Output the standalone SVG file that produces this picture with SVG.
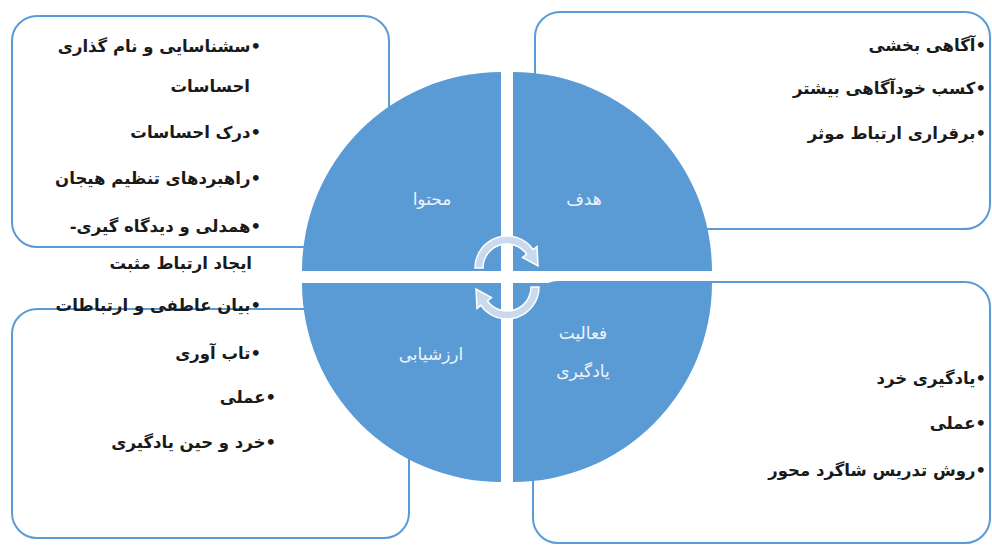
<svg xmlns="http://www.w3.org/2000/svg" width="992" height="545" viewBox="0 0 992 545">
<style>
.box{fill:#ffffff;stroke:#5b9bd5;stroke-width:2}
.q{fill:#5b9bd5}
.t{font-family:"DejaVu Sans","Noto Sans",sans-serif;font-size:16.5px;font-weight:bold;fill:#1a1a1a;direction:rtl;text-anchor:start}
.ql{font-family:"DejaVu Sans","Noto Sans",sans-serif;font-size:17px;fill:#eef3fa;text-anchor:middle}
.arr{fill:#c9daef;stroke:#ffffff;stroke-width:1.5}
</style>
<rect width="992" height="545" fill="#ffffff"/>
<g id="box-content">
<rect class="box" x="12" y="16" width="377" height="231" rx="25"/>
</g>
<g id="box-goal">
<rect class="box" x="535" y="12" width="455" height="217" rx="25"/>
</g>
<g id="box-eval">
<rect class="box" x="12" y="309" width="397" height="229" rx="25"/>
</g>
<g id="box-activity">
<rect class="box" x="533" y="282" width="457" height="261" rx="25"/>
</g>
<g id="texts-content">
<text class="t" x="261" y="52" direction="rtl">•سشناسایی و نام گذاری</text>
<text class="t" x="250" y="92" direction="rtl">احساسات</text>
<text class="t" x="261" y="138" direction="rtl">•درک احساسات</text>
<text class="t" x="261" y="184" direction="rtl">•راهبردهای تنظیم هیجان</text>
<text class="t" x="261" y="232" direction="rtl">•همدلی و دیدگاه گیری-</text>
<text class="t" x="252" y="269" direction="rtl">ایجاد ارتباط مثبت</text>
<text class="t" x="261" y="311" direction="rtl">•بیان عاطفی و ارتباطات</text>
</g>
<g id="texts-goal">
<text class="t" x="986" y="51" direction="rtl">•آگاهی بخشی</text>
<text class="t" x="986" y="94" direction="rtl">•کسب خودآگاهی بیشتر</text>
<text class="t" x="986" y="139" direction="rtl">•برقراری ارتباط موثر</text>
</g>
<g id="texts-eval">
<text class="t" x="261" y="359" direction="rtl">•تاب آوری</text>
<text class="t" x="276" y="403" direction="rtl">•عملی</text>
<text class="t" x="276" y="448" direction="rtl">•خرد و حین یادگیری</text>
</g>
<g id="texts-activity">
<text class="t" x="986" y="384" direction="rtl">•یادگیری خرد</text>
<text class="t" x="986" y="429" direction="rtl">•عملی</text>
<text class="t" x="986" y="476" direction="rtl">•روش تدریس شاگرد محور</text>
</g>
<g id="q-content">
<path class="q" d="M501,271 L302,271 A199,199 0 0 1 501,72 Z"/>
<text class="ql" x="432" y="205">محتوا</text>
</g>
<g id="q-goal">
<path class="q" d="M513,271 L513,72 A199,199 0 0 1 712,271 Z"/>
<text class="ql" x="584" y="205">هدف</text>
</g>
<g id="q-activity">
<path class="q" d="M513,283 L712,283 A199,199 0 0 1 513,482 Z"/>
<text class="ql" x="583" y="339">فعالیت</text>
<text class="ql" x="583" y="377">یادگیری</text>
</g>
<g id="q-eval">
<path class="q" d="M501,283 L501,482 A199,199 0 0 1 302,283 Z"/>
<text class="ql" x="431" y="360">ارزشیابی</text>
</g>
<g id="connectors">
<path class="arr" d="M475,268 A32,32 0 0 1 533.2,249.6 L537,246.5 L538,266 L522.5,257.5 L526.7,254.2 A24,24 0 0 0 483,268 Z"/>
<path class="arr" transform="rotate(180 507 277.5)" d="M475,268 A32,32 0 0 1 533.2,249.6 L537,246.5 L538,266 L522.5,257.5 L526.7,254.2 A24,24 0 0 0 483,268 Z"/>
</g>
</svg>
